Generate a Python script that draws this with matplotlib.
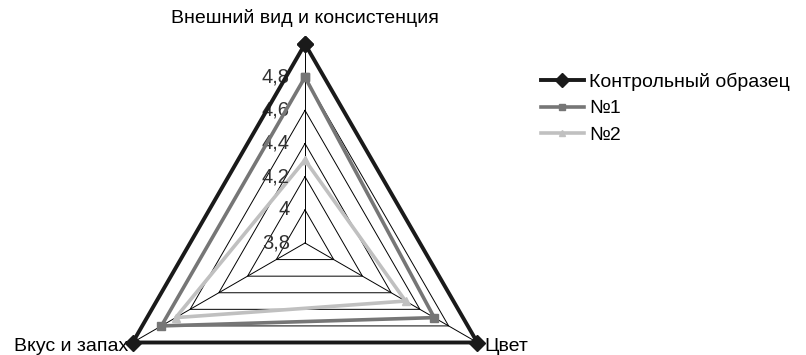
import numpy as np
import matplotlib
matplotlib.use("Agg")
import matplotlib.pyplot as plt
from matplotlib.lines import Line2D

plt.rcParams['font.family'] = ['Liberation Sans Narrow', 'Liberation Sans', 'DejaVu Sans']

categories = ["Внешний вид и консистенция", "Цвет", "Вкус и запах"]
series_names = ["Контрольный образец", "№1", "№2"]
control = [5.0, 5.0, 5.0]
sample1 = [4.8, 4.7, 4.8]
sample2 = [4.3, 4.5, 4.7]
r_ticks = [3.8, 4.0, 4.2, 4.4, 4.6, 4.8, 5.0]
r_tick_labels = ["3,8", "4", "4,2", "4,4", "4,6", "4,8"]

W, H = 806, 355
fig = plt.figure(figsize=(W / 100, H / 100), dpi=100)

# radar centre ~ (305, 243) px, radius ~199 px
cx, cy, rad = 305, 243, 199
ax = fig.add_axes([(cx - rad) / W, (H - cy - rad) / H, 2 * rad / W, 2 * rad / H],
                  projection='polar')
ax.set_theta_offset(np.pi / 2)
ax.set_theta_direction(-1)
ax.set_ylim(3.8, 5.0)
ax.grid(False)
ax.spines['polar'].set_visible(False)
ax.set_xticks([])
ax.set_yticks([])
ax.patch.set_alpha(0)

angles = np.linspace(0, 2 * np.pi, len(categories), endpoint=False)
closed = np.append(angles, angles[0])

# triangular grid
for r in r_ticks[1:-1]:
    ax.plot(closed, [r] * len(closed), color='black', lw=0.7, clip_on=False, zorder=1)
for a in angles:
    ax.plot([a, a], [3.8, 5.0], color='black', lw=0.7, clip_on=False, zorder=1)

def close(v):
    return list(v) + [v[0]]

ax.plot(closed, close(sample2), color='#c0c0c0', lw=2.6, marker='^', ms=6,
        clip_on=False, zorder=3, label=series_names[2])
ax.plot(closed, close(sample1), color='#767676', lw=2.6, marker='s', ms=6,
        clip_on=False, zorder=4, label=series_names[1])
ax.plot(closed, close(control), color='#1a1a1a', lw=2.8, marker='D', ms=8,
        clip_on=False, zorder=5, label=series_names[0])

# radial value labels
for r, lab in zip(r_ticks, r_tick_labels):
    ax.annotate(lab, xy=(0, r), xytext=(-11, 0), textcoords='offset points',
                ha='right', va='center', fontsize=14.5, color='#333333',
                annotation_clip=False)

# category labels
ax.annotate(categories[0], xy=(angles[0], 5.0), xytext=(0, 12), textcoords='offset points',
            ha='center', va='bottom', fontsize=14, annotation_clip=False)
ax.annotate(categories[1], xy=(angles[1], 5.0), xytext=(5, -3), textcoords='offset points',
            ha='left', va='center', fontsize=14, annotation_clip=False)
ax.annotate(categories[2], xy=(angles[2], 5.0), xytext=(-3, -3), textcoords='offset points',
            ha='right', va='center', fontsize=14, annotation_clip=False)

handles = [
    Line2D([], [], color='#1a1a1a', lw=2.8, marker='D', ms=7),
    Line2D([], [], color='#767676', lw=2.6, marker='s', ms=5),
    Line2D([], [], color='#c0c0c0', lw=2.6, marker='^', ms=5),
]
fig.legend(handles, series_names, loc='upper left', bbox_to_anchor=(533 / W, 1 - 65 / H),
           frameon=False, fontsize=14, handlelength=2.2, handletextpad=0.3,
           labelspacing=0.45, borderaxespad=0)

fig.savefig("out.png", dpi=100)
